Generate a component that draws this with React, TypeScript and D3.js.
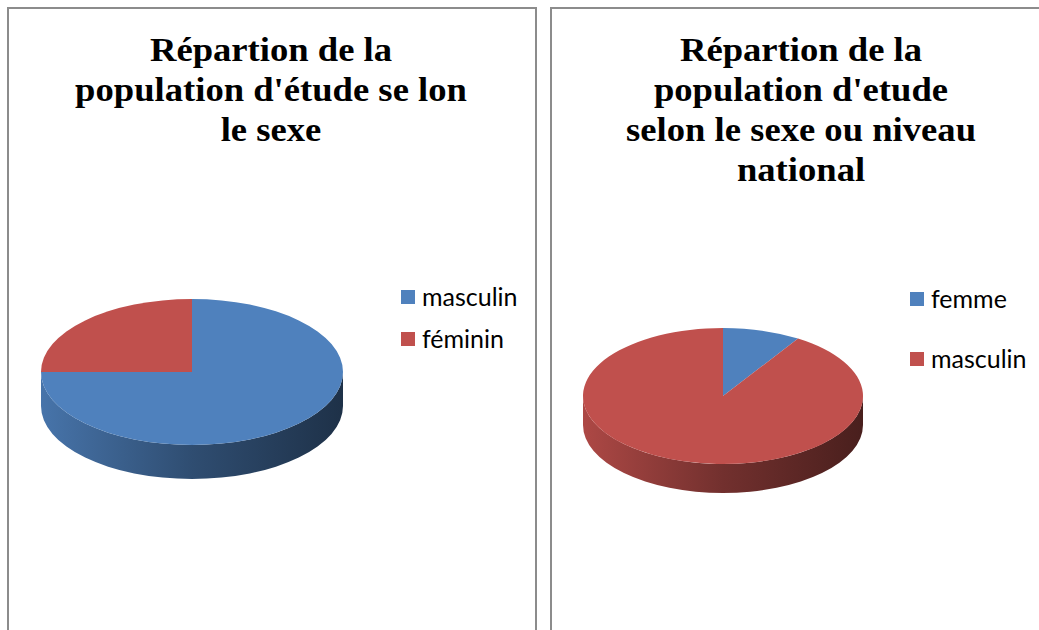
import React from 'react';
import * as d3 from 'd3';

// ---- data ----
const leftTitle = ["Répartion de la", "population d'étude se lon", "le sexe"];
const leftCategories = ["masculin", "féminin"];
const leftValues = [75, 25];

const rightTitle = ["Répartion de la", "population d'etude", "selon le sexe ou niveau", "national"];
const rightCategories = ["femme", "masculin"];
const rightValues = [9, 91];

const seriesColors = ["#4f81bd", "#c0504d"];

// ---- layout ----
const W = 1039;
const H = 630;

type PieProps = {
  id: string;
  cx: number;
  cy: number;
  rx: number;
  ry: number;
  depth: number;
  values: number[];
  colors: string[];
};

function Pie3D({ id, cx, cy, rx, ry, depth, values, colors }: PieProps) {
  const pie = d3.pie<number>().sort(null).value((d) => d);
  const arcs = pie(values);
  const arc = d3.arc<d3.PieArcDatum<number>>().innerRadius(0).outerRadius(rx);
  const pt = (a: number): [number, number] => [cx + rx * Math.sin(a), cy - ry * Math.cos(a)];

  const sides = arcs
    .map((a, i) => {
      const s = Math.max(a.startAngle, Math.PI / 2);
      const e = Math.min(a.endAngle, (3 * Math.PI) / 2);
      if (s >= e) return null;
      const [x0, y0] = pt(s);
      const [x1, y1] = pt(e);
      const d = `M${x0},${y0} A${rx},${ry} 0 0 1 ${x1},${y1} L${x1},${y1 + depth} A${rx},${ry} 0 0 0 ${x0},${y0 + depth} Z`;
      return { d, i };
    })
    .filter(Boolean) as { d: string; i: number }[];

  return (
    <g>
      <defs>
        {colors.map((c, i) => {
          const col = d3.color(c)!;
          return (
            <linearGradient
              key={i}
              id={`${id}-side-${i}`}
              gradientUnits="userSpaceOnUse"
              x1={cx - rx}
              x2={cx + rx}
              y1={0}
              y2={0}
            >
              <stop offset="0" stopColor={col.darker(0.3).formatHex()} />
              <stop offset="0.5" stopColor={col.darker(1.45).formatHex()} />
              <stop offset="1" stopColor={col.darker(2.7).formatHex()} />
            </linearGradient>
          );
        })}
      </defs>
      {sides.map((s) => (
        <path key={s.i} d={s.d} fill={`url(#${id}-side-${s.i})`} />
      ))}
      <g transform={`translate(${cx},${cy}) scale(1,${ry / rx})`}>
        {arcs.map((a, i) => (
          <path key={i} d={arc(a) || ''} fill={colors[i % colors.length]} />
        ))}
      </g>
    </g>
  );
}

function Title({ lines, cx, y0, dy }: { lines: string[]; cx: number; y0: number; dy: number }) {
  return (
    <g>
      {lines.map((l, i) => (
        <text
          key={i}
          transform={`translate(${cx},${y0 + i * dy}) scale(1.11,1)`}
          textAnchor="middle"
          fontFamily="'Liberation Serif', 'Times New Roman', serif"
          fontWeight="bold"
          fontSize={33}
          fill="#000"
        >
          {l}
        </text>
      ))}
    </g>
  );
}

function Legend({ x, y0, dy, labels, colors }: { x: number; y0: number; dy: number; labels: string[]; colors: string[] }) {
  return (
    <g>
      {labels.map((l, i) => (
        <g key={i} transform={`translate(${x},${y0 + i * dy})`}>
          <rect x={0} y={-7} width={14} height={14} fill={colors[i % colors.length]} />
          <text x={21} y={8.5} fontFamily="Lato, 'Open Sans', sans-serif" fontSize={25} fill="#000">
            {l}
          </text>
        </g>
      ))}
    </g>
  );
}

export default function App() {
  return (
    <svg width={W} height={H} style={{ position: 'absolute', left: 0, top: 0, background: '#fff' }}>
      <rect x={0} y={0} width={W} height={H} fill="#fff" />
      {/* panels */}
      <rect x={8} y={8} width={528} height={700} fill="#fff" stroke="#8c8c8c" strokeWidth={2} />
      <rect x={551} y={8} width={600} height={700} fill="#fff" stroke="#8c8c8c" strokeWidth={2} />

      <Title lines={leftTitle} cx={271} y0={61} dy={40} />
      <Title lines={rightTitle} cx={801} y0={61} dy={40} />

      <Pie3D id="pl" cx={192} cy={372} rx={151} ry={73} depth={34} values={leftValues} colors={seriesColors} />
      <Pie3D id="pr" cx={723} cy={396} rx={140} ry={68} depth={29} values={rightValues} colors={seriesColors} />

      <Legend x={401} y0={297} dy={42} labels={leftCategories} colors={seriesColors} />
      <Legend x={910} y0={299} dy={60} labels={rightCategories} colors={seriesColors} />
    </svg>
  );
}
